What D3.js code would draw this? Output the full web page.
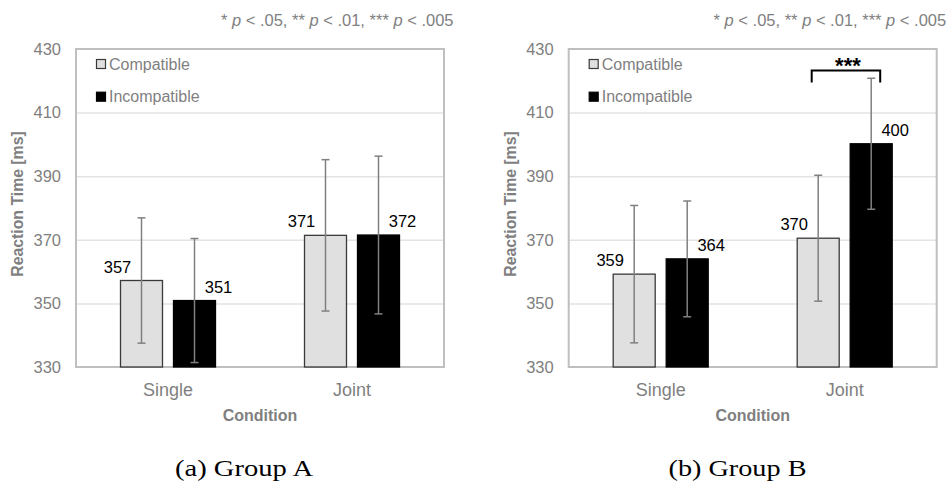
<!DOCTYPE html>
<html>
<head>
<meta charset="utf-8">
<script src="https://cdn.jsdelivr.net/npm/d3@7"></script>
<style>
  html, body { margin: 0; padding: 0; background: #fff; }
  svg { display: block; }
</style>
</head>
<body>
<svg id="chart" width="948" height="483"></svg>
<script>
// ---------- DATA ----------
const categories = ["Single", "Joint"];
const seriesNames = ["Compatible", "Incompatible"];
const yTicks = [330, 350, 370, 390, 410, 430];

const aCompat = [357.2, 371.4];
const aIncompat = [350.9, 371.5];
const aCompatErr = [19.7, 23.8];
const aIncompatErr = [19.5, 24.8];
const aCompatLabels = ["357", "371"];
const aIncompatLabels = ["351", "372"];

const bCompat = [359.2, 370.5];
const bIncompat = [364.0, 400.2];
const bCompatErr = [21.6, 19.8];
const bIncompatErr = [18.2, 20.6];
const bCompatLabels = ["359", "370"];
const bIncompatLabels = ["364", "400"];

const bSignificance = [{ category: "Joint", level: 423.2, stars: "***" }];

const captions = ["(a) Group A", "(b) Group B"];
const yTitle = "Reaction Time [ms]";
const xTitle = "Condition";

// ---------- LAYOUT ----------
const svg = d3.select("#chart");
const FONT = "'Liberation Sans', Arial, Helvetica, sans-serif";
const GRAY = "#7f7f7f";

const panels = [
  { left: 76, compat: aCompat, incompat: aIncompat, cErr: aCompatErr, iErr: aIncompatErr,
    cLab: aCompatLabels, iLab: aIncompatLabels, sig: [], caption: captions[0], capX: 244 },
  { left: 568.7, compat: bCompat, incompat: bIncompat, cErr: bCompatErr, iErr: bIncompatErr,
    cLab: bCompatLabels, iLab: bIncompatLabels, sig: bSignificance, caption: captions[1], capX: 737.5 }
];

const plotW = 368, plotTop = 49, plotBottom = 367;

panels.forEach(p => {
  const g = svg.append("g");
  const L = p.left, R = p.left + plotW;
  const y = d3.scaleLinear().domain([330, 430]).range([plotBottom, plotTop]);
  const x = d3.scaleBand().domain(categories).range([L, R]).padding(0);
  const groupW = 95;
  const xs = d3.scaleBand().domain(seriesNames).range([0, groupW]).paddingInner(0.2075).paddingOuter(0);
  const bx = (c, s) => x(c) + x.bandwidth() / 2 - groupW / 2 + xs(s);
  const bw = xs.bandwidth();

  // gridlines
  g.append("g")
    .attr("transform", `translate(${L},0)`)
    .call(d3.axisLeft(y).tickValues(yTicks.slice(1, -1)).tickSize(-plotW).tickFormat(""))
    .call(a => a.select(".domain").remove())
    .call(a => a.selectAll("line").attr("stroke", "#e3e3e3").attr("stroke-width", 1.5));

  // y tick labels
  g.append("g")
    .attr("transform", `translate(${L - 15},0)`)
    .call(d3.axisLeft(y).tickValues(yTicks).tickSize(0).tickPadding(0))
    .call(a => a.select(".domain").remove())
    .call(a => a.selectAll("text").attr("fill", GRAY).style("font-family", FONT).style("font-size", "16.5px"));

  // frame
  g.append("rect")
    .attr("x", L).attr("y", plotTop).attr("width", plotW).attr("height", plotBottom - plotTop)
    .attr("fill", "none").attr("stroke", "#bfbfbf").attr("stroke-width", 2);

  // bars
  const rows = [];
  categories.forEach((c, i) => {
    rows.push({ c, s: seriesNames[0], v: p.compat[i], e: p.cErr[i], lab: p.cLab[i], side: -1 });
    rows.push({ c, s: seriesNames[1], v: p.incompat[i], e: p.iErr[i], lab: p.iLab[i], side: 1 });
  });

  g.selectAll("rect.bar").data(rows).join("rect")
    .attr("class", "bar")
    .attr("x", d => bx(d.c, d.s))
    .attr("y", d => y(d.v))
    .attr("width", bw)
    .attr("height", d => y(330) - y(d.v))
    .attr("fill", d => d.s === "Compatible" ? "#e0e0e0" : "#000")
    .attr("stroke", d => d.s === "Compatible" ? "#3a3a3a" : "#000")
    .attr("stroke-width", 1.3);

  // error bars
  const eb = g.selectAll("g.err").data(rows).join("g").attr("class", "err")
    .attr("stroke", "#808080").attr("stroke-width", 1.5);
  eb.append("line")
    .attr("x1", d => bx(d.c, d.s) + bw / 2).attr("x2", d => bx(d.c, d.s) + bw / 2)
    .attr("y1", d => y(d.v + d.e)).attr("y2", d => y(d.v - d.e));
  eb.append("line")
    .attr("x1", d => bx(d.c, d.s) + bw / 2 - 4).attr("x2", d => bx(d.c, d.s) + bw / 2 + 4)
    .attr("y1", d => y(d.v + d.e)).attr("y2", d => y(d.v + d.e));
  eb.append("line")
    .attr("x1", d => bx(d.c, d.s) + bw / 2 - 4).attr("x2", d => bx(d.c, d.s) + bw / 2 + 4)
    .attr("y1", d => y(d.v - d.e)).attr("y2", d => y(d.v - d.e));

  // value labels
  g.selectAll("text.val").data(rows).join("text")
    .attr("class", "val")
    .attr("x", d => bx(d.c, d.s) + bw / 2 + d.side * 24)
    .attr("y", d => y(d.v) - 8)
    .attr("text-anchor", "middle")
    .style("font-family", FONT).style("font-size", "16.5px")
    .attr("fill", "#000")
    .text(d => d.lab);

  // x category labels
  g.selectAll("text.cat").data(categories).join("text")
    .attr("class", "cat")
    .attr("x", c => x(c) + x.bandwidth() / 2)
    .attr("y", 396)
    .attr("text-anchor", "middle")
    .style("font-family", FONT).style("font-size", "18px")
    .attr("fill", GRAY)
    .text(c => c);

  // x title
  g.append("text")
    .attr("x", L + plotW / 2).attr("y", 421)
    .attr("text-anchor", "middle")
    .style("font-family", FONT).style("font-size", "16px").style("font-weight", "bold")
    .attr("fill", GRAY).text(xTitle);

  // y title
  g.append("text")
    .attr("transform", `translate(${L - 53},204) rotate(-90)`)
    .attr("text-anchor", "middle")
    .style("font-family", FONT).style("font-size", "15.8px").style("font-weight", "bold")
    .attr("fill", GRAY).text(yTitle);

  // legend
  seriesNames.forEach((s, i) => {
    const ly = 64 + i * 32.7;
    g.append("rect")
      .attr("x", L + 20.5).attr("y", ly - 4.5).attr("width", 9).attr("height", 9)
      .attr("fill", s === "Compatible" ? "#e0e0e0" : "#000")
      .attr("stroke", s === "Compatible" ? "#3a3a3a" : "#000").attr("stroke-width", 1.2);
    g.append("text")
      .attr("x", L + 33).attr("y", ly).attr("dy", "0.35em")
      .style("font-family", FONT).style("font-size", "16px")
      .attr("fill", GRAY).text(s);
  });

  // p-value note
  const note = g.append("text")
    .attr("x", L + 377.5).attr("y", 26)
    .attr("text-anchor", "end")
    .style("font-family", FONT).style("font-size", "16.5px")
    .attr("fill", GRAY);
  [["* ", false], ["p", true], [" < .05, ** ", false], ["p", true], [" < .01, *** ", false], ["p", true], [" < .005", false]]
    .forEach(([t, it]) => note.append("tspan").style("font-style", it ? "italic" : "normal").text(t));

  // significance brackets
  p.sig.forEach(sg => {
    const cx0 = bx(sg.category, seriesNames[0]) + bw / 2 - 6.5;
    const cx1 = bx(sg.category, seriesNames[1]) + bw / 2 + 9;
    const yy = y(sg.level);
    g.append("path")
      .attr("d", `M${cx0},${yy + 12} V${yy} H${cx1} V${yy + 12}`)
      .attr("fill", "none").attr("stroke", "#000").attr("stroke-width", 2);
    g.append("text")
      .attr("x", (cx0 + cx1) / 2 + 2).attr("y", yy + 2)
      .attr("text-anchor", "middle")
      .style("font-family", FONT).style("font-size", "22px").style("font-weight", "bold")
      .attr("fill", "#000").text(sg.stars);
  });

  // caption
  g.append("text")
    .attr("x", p.capX).attr("y", 476)
    .attr("text-anchor", "middle")
    .attr("textLength", 138).attr("lengthAdjust", "spacingAndGlyphs")
    .style("font-family", "'Liberation Serif', 'Times New Roman', serif").style("font-size", "24px")
    .attr("fill", "#000").text(p.caption);
});
</script>
</body>
</html>
